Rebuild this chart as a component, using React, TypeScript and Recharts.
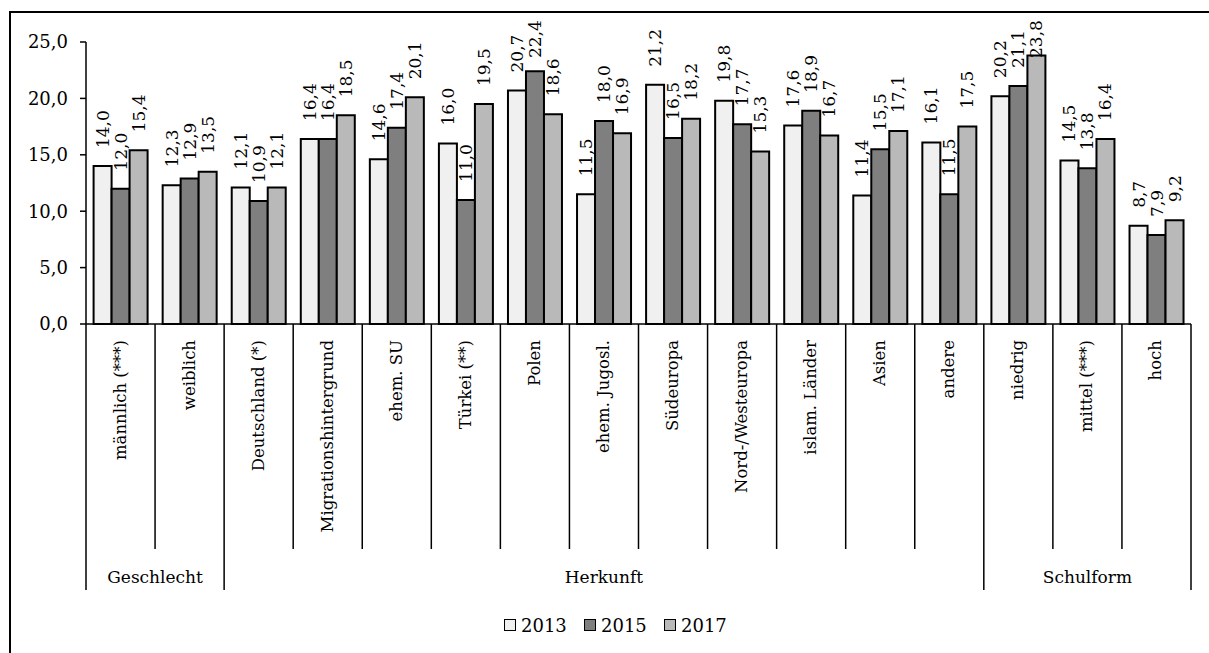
import React from "react";
import { Bar, BarChart, LabelList, Legend, XAxis, YAxis } from "recharts";

const categories = [
  "männlich (***)",
  "weiblich",
  "Deutschland (*)",
  "Migrationshintergrund",
  "ehem. SU",
  "Türkei (**)",
  "Polen",
  "ehem. Jugosl.",
  "Südeuropa",
  "Nord-/Westeuropa",
  "islam. Länder",
  "Asien",
  "andere",
  "niedrig",
  "mittel (***)",
  "hoch"
];

const values2013 = [14.0, 12.3, 12.1, 16.4, 14.6, 16.0, 20.7, 11.5, 21.2, 19.8, 17.6, 11.4, 16.1, 20.2, 14.5, 8.7];
const values2015 = [12.0, 12.9, 10.9, 16.4, 17.4, 11.0, 22.4, 18.0, 16.5, 17.7, 18.9, 15.5, 11.5, 21.1, 13.8, 7.9];
const values2017 = [15.4, 13.5, 12.1, 18.5, 20.1, 19.5, 18.6, 16.9, 18.2, 15.3, 16.7, 17.1, 17.5, 23.8, 16.4, 9.2];

const years = ["2013", "2015", "2017"];
const yTicks = [0, 5, 10, 15, 20, 25];

const groups = [
  { name: "Geschlecht", start: 0, count: 2 },
  { name: "Herkunft", start: 2, count: 11 },
  { name: "Schulform", start: 13, count: 3 }
];

const colors = ["#f0f0f0", "#7f7f7f", "#b9b9b9"];
const FONT = "'DejaVu Serif', serif";

// layout of the plot area
const PLOT_LEFT = 86;
const PLOT_RIGHT = 1191;
const BAND = (PLOT_RIGHT - PLOT_LEFT) / categories.length;

const data = categories.map((name, i) => ({
  name,
  y2013: values2013[i],
  y2015: values2015[i],
  y2017: values2017[i]
}));

const fmt = (v: number) => v.toFixed(1).replace(".", ",");

function CategoryTick(props: any) {
  const { x, y, payload, index } = props;
  const left = x - BAND / 2;
  const group = groups.find((g) => g.start === index);
  const isLast = index === categories.length - 1;
  return (
    <g>
      <line x1={left} x2={left} y1={y} y2={group ? y + 266 : y + 225} stroke="#000" strokeWidth={1.5} />
      {isLast && <line x1={x + BAND / 2} x2={x + BAND / 2} y1={y} y2={y + 266} stroke="#000" strokeWidth={1.5} />}
      <g transform={`translate(${x},${y + 16}) rotate(-90)`}>
        <text x={0} y={5} textAnchor="end" fontSize={16.5} fontFamily={FONT} fill="#000">
          {payload.value}
        </text>
      </g>
      {group && (
        <text
          x={left + (group.count * BAND) / 2}
          y={y + 259}
          textAnchor="middle"
          fontSize={17}
          fontFamily={FONT}
          fill="#000"
        >
          {group.name}
        </text>
      )}
    </g>
  );
}

function ValueLabel(props: any) {
  const { x, y, width, value } = props;
  const cx = x + width / 2;
  const ty = Math.max(y - 18, 58);
  return (
    <g transform={`translate(${cx},${ty}) rotate(-90)`}>
      <text x={0} y={6} textAnchor="start" fontSize={17} fontFamily={FONT} fill="#000">
        {fmt(value)}
      </text>
    </g>
  );
}

function LegendContent() {
  return (
    <div style={{ display: "flex", height: 20, alignItems: "center", fontFamily: FONT, fontSize: 18 }}>
      {years.map((yr, i) => (
        <div key={yr} style={{ display: "flex", alignItems: "center", width: 80 }}>
          <span
            style={{
              display: "inline-block",
              width: 10,
              height: 10,
              background: colors[i],
              border: "1.5px solid #000",
              marginRight: 5
            }}
          />
          <span>{yr}</span>
        </div>
      ))}
    </div>
  );
}

export default function App() {
  return (
    <div
      style={{
        position: "absolute",
        left: 0,
        top: 0,
        width: 1209,
        height: 653,
        overflow: "hidden",
        background: "#fff",
        fontFamily: FONT
      }}
    >
      <div
        style={{
          position: "absolute",
          left: 9,
          top: 11,
          width: 1400,
          height: 900,
          border: "2px solid #000"
        }}
      />
      <div style={{ position: "absolute", left: 0, top: 0 }}>
        <BarChart
          width={1209}
          height={653}
          data={data}
          margin={{ top: 42, right: 18, left: 10, bottom: 18 }}
          barCategoryGap="11%"
          barGap={0}
        >
          <XAxis
            dataKey="name"
            interval={0}
            height={291}
            tickLine={false}
            tickSize={0}
            tickMargin={0}
            axisLine={{ stroke: "#000", strokeWidth: 1.5 }}
            tick={<CategoryTick />}
          />
          <YAxis
            domain={[0, 25]}
            ticks={yTicks}
            width={76}
            tickSize={6}
            tickMargin={12}
            tickFormatter={fmt}
            axisLine={{ stroke: "#000", strokeWidth: 1.5 }}
            tickLine={{ stroke: "#000", strokeWidth: 1.5 }}
            tick={{ fill: "#000", fontSize: 18, fontFamily: FONT }}
          />
          <Legend
            verticalAlign="bottom"
            content={<LegendContent />}
            wrapperStyle={{ left: 504, width: 250 }}
          />
          <Bar dataKey="y2013" name="2013" fill={colors[0]} stroke="#000" strokeWidth={2} isAnimationActive={false}>
            <LabelList dataKey="y2013" content={<ValueLabel />} />
          </Bar>
          <Bar dataKey="y2015" name="2015" fill={colors[1]} stroke="#000" strokeWidth={2} isAnimationActive={false}>
            <LabelList dataKey="y2015" content={<ValueLabel />} />
          </Bar>
          <Bar dataKey="y2017" name="2017" fill={colors[2]} stroke="#000" strokeWidth={2} isAnimationActive={false}>
            <LabelList dataKey="y2017" content={<ValueLabel />} />
          </Bar>
        </BarChart>
      </div>
    </div>
  );
}
